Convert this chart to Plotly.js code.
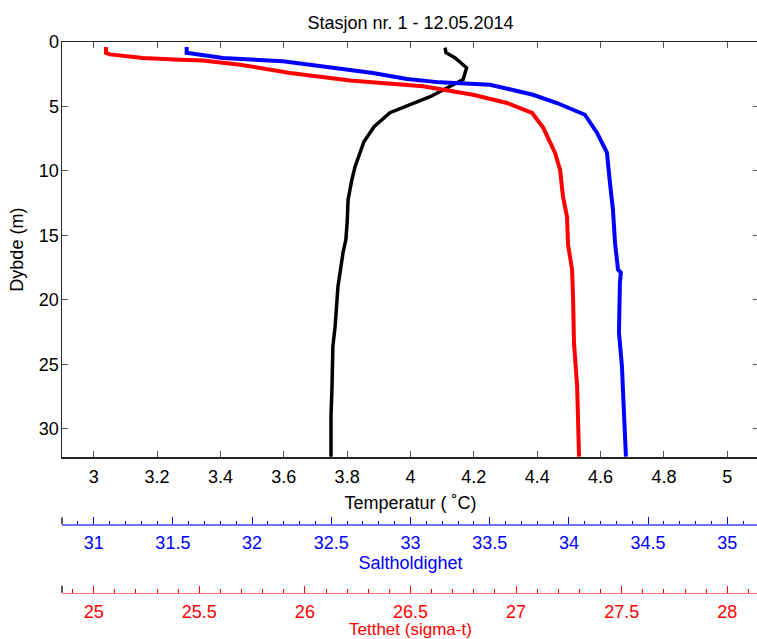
<!DOCTYPE html>
<html>
<head>
<meta charset="utf-8">
<script src="https://cdn.plot.ly/plotly-3.0.1.min.js"></script>
<style>
  html, body { margin: 0; padding: 0; overflow: hidden; background: #fff; }
  #chart { width: 759px; height: 639px; }
</style>
</head>
<body>
<div id="chart"></div>
<script>
// Temperature profile (°C) vs depth (m)
const tempDepth = [0.44, 0.83, 1.22, 2.0, 2.92, 3.7, 4.24, 5.48, 6.57, 7.73, 9.67, 10.67, 12.22, 14.0, 15.33, 16.33, 18.97, 22.07, 23.6, 26.95, 29.0, 32.15];
const tempValues = [4.109, 4.112, 4.140, 4.177, 4.166, 4.103, 4.062, 3.935, 3.885, 3.853, 3.825, 3.815, 3.803, 3.800, 3.796, 3.787, 3.771, 3.762, 3.755, 3.752, 3.749, 3.749];

// Salinity profile vs depth (m)
const salDepth = [0.39, 0.85, 0.87, 1.24, 1.50, 1.89, 2.15, 2.40, 2.87, 3.13, 3.31, 4.09, 4.73, 5.64, 7.03, 8.58, 10.91, 13.0, 15.56, 17.65, 17.88, 18.66, 22.53, 25.17, 26.95, 30.6, 32.15];
const salValues = [31.587, 31.587, 31.608, 31.816, 32.195, 32.448, 32.618, 32.763, 32.978, 33.186, 33.502, 33.773, 33.925, 34.101, 34.177, 34.240, 34.259, 34.278, 34.291, 34.310, 34.328, 34.322, 34.316, 34.335, 34.341, 34.354, 34.360];

// Density (sigma-t) profile vs depth (m)
const densDepth = [0.39, 0.85, 0.96, 1.24, 1.37, 1.43, 1.76, 2.40, 2.98, 3.44, 4.09, 4.73, 5.50, 6.64, 8.58, 9.90, 11.99, 13.54, 15.71, 17.65, 19.98, 23.31, 26.71, 29.5, 32.15];
const densValues = [25.058, 25.058, 25.077, 25.233, 25.409, 25.517, 25.693, 25.930, 26.214, 26.559, 26.796, 26.957, 27.076, 27.128, 27.184, 27.208, 27.222, 27.241, 27.246, 27.265, 27.270, 27.274, 27.289, 27.293, 27.298];

const titleText = 'Stasjon nr. 1 - 12.05.2014';
const tempTitle = 'Temperatur ( \u02DAC)';
const salTitle = 'Saltholdighet';
const densTitle = 'Tetthet (sigma-t)';
const depthTitle = 'Dybde (m)';

const FONT = 'Liberation Sans, Arial, Helvetica, sans-serif';

const traces = [
  { x: tempValues, y: tempDepth, xaxis: 'x', yaxis: 'y', type: 'scatter', mode: 'lines',
    line: { color: '#000000', width: 3.5 }, name: 'Temperatur' },
  { x: salValues, y: salDepth, xaxis: 'x2', yaxis: 'y', type: 'scatter', mode: 'lines',
    line: { color: '#0000ff', width: 4 }, name: 'Saltholdighet' },
  { x: densValues, y: densDepth, xaxis: 'x3', yaxis: 'y', type: 'scatter', mode: 'lines',
    line: { color: '#ff0000', width: 4 }, name: 'Tetthet' }
];

const layout = {
  width: 759, height: 639, autosize: false,
  margin: { l: 62, r: 0, t: 42, b: 0, pad: 0 },
  paper_bgcolor: '#ffffff', plot_bgcolor: '#ffffff',
  showlegend: false,
  font: { family: FONT, size: 18, color: '#000000' },
  title: { text: titleText, x: 0.5, xref: 'paper', xanchor: 'center',
           y: 1 - 22.5 / 639, yref: 'container', yanchor: 'middle',
           font: { family: FONT, size: 18, color: '#000000' } },
  xaxis: {
    domain: [0, 1], anchor: 'y', range: [2.9, 5.1], tick0: 3, dtick: 0.2,
    ticks: 'inside', ticklen: 6, tickwidth: 1, tickcolor: '#555555',
    showline: true, linecolor: '#262626', linewidth: 1.5, mirror: 'ticks',
    showgrid: false, zeroline: false, ticklabelstandoff: 3,
    tickfont: { family: FONT, size: 18, color: '#000000' },
    title: { text: tempTitle, standoff: 10, font: { family: FONT, size: 18, color: '#000000' } }
  },
  yaxis: {
    domain: [0.3044, 1], range: [32.2, 0], tick0: 0, dtick: 5,
    ticks: 'inside', ticklen: 6, tickwidth: 1, tickcolor: '#555555',
    showline: true, linecolor: '#262626', linewidth: 1.5, mirror: 'ticks',
    showgrid: false, zeroline: false, ticklabelstandoff: -2,
    tickfont: { family: FONT, size: 18, color: '#000000' },
    title: { text: depthTitle, standoff: 10, font: { family: FONT, size: 18, color: '#000000' } }
  },
  xaxis2: {
    overlaying: 'x', anchor: 'free', position: 0.1921, side: 'bottom',
    range: [30.8, 35.2], tick0: 31, dtick: 0.5,
    ticks: 'inside', ticklen: 7, tickwidth: 1, tickcolor: '#0000ff',
    minor: { dtick: 0.1, ticks: 'inside', ticklen: 3.5, tickwidth: 1, tickcolor: '#0000ff', showgrid: false },
    showline: true, linecolor: '#6e6eff', linewidth: 1.5,
    showgrid: false, zeroline: false, ticklabelstandoff: 2,
    tickfont: { family: FONT, size: 18, color: '#0000ff' },
    title: { text: salTitle, standoff: 2, font: { family: FONT, size: 18, color: '#0000ff' } }
  },
  xaxis3: {
    overlaying: 'x', anchor: 'free', position: 0.0776, side: 'bottom',
    range: [24.85, 28.15], tick0: 25, dtick: 0.5,
    ticks: 'inside', ticklen: 7, tickwidth: 1, tickcolor: '#ff0000',
    minor: { dtick: 0.1, ticks: 'inside', ticklen: 3.5, tickwidth: 1, tickcolor: '#ff0000', showgrid: false },
    showline: true, linecolor: '#ff6e6e', linewidth: 1.5,
    showgrid: false, zeroline: false, ticklabelstandoff: 2,
    tickfont: { family: FONT, size: 18, color: '#ff0000' }
  },
  annotations: [
    { text: densTitle, xref: 'paper', yref: 'paper', x: 0.5, y: (639 - 629) / 597,
      xanchor: 'center', yanchor: 'middle', showarrow: false,
      font: { family: FONT, size: 17, color: '#ff0000' } }
  ],
  shapes: [
    { type: 'line', xref: 'paper', yref: 'paper', x0: 0, x1: 0, y0: 0.1921, y1: 0.1921 + 7 / 597,
      line: { color: '#262626', width: 1.5 } },
    { type: 'line', xref: 'paper', yref: 'paper', x0: 0, x1: 0, y0: 0.0776, y1: 0.0776 + 7 / 597,
      line: { color: '#262626', width: 1.5 } }
  ]
};

Plotly.newPlot('chart', traces, layout, { displayModeBar: false, staticPlot: true });
</script>
</body>
</html>
